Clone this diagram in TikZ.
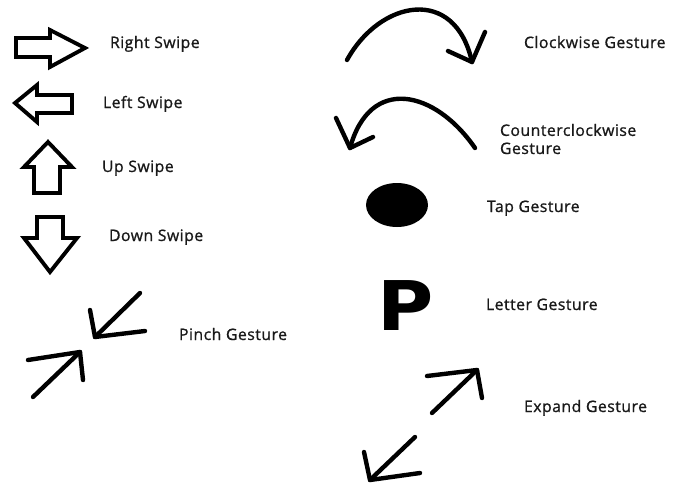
\documentclass[tikz,border=0pt]{standalone}
\usepackage{fontspec}
\setmainfont{Open Sans}[LetterSpace=3, FakeBold=1]
\newfontfamily\letterfont{DejaVu Sans}
\usetikzlibrary{positioning, shapes.geometric}
\tikzset{
  every picture/.style={line width=2.3pt},
  blockarrow/.style={draw=black, line join=miter, line width=2.2pt},
  stroke/.style={draw=black, line width=2.5pt, line cap=round, line join=round},
  label/.style={anchor=base west, inner sep=0pt, font=\fontsize{9}{10.3}\selectfont, text=black!90},
}
\begin{document}
\begin{tikzpicture}[x=0.02cm, y=-0.02cm]
  \useasboundingbox (0,0) rectangle (683,484);
  % swipes
  \draw[blockarrow] (16,38) -- (50,38) -- (50,30) -- (85,48) -- (50,67) -- (50,57) -- (16,57) -- cycle;
  \draw[blockarrow] (15,103) -- (37,85) -- (37,95) -- (72,95) -- (72,113) -- (37,113) -- (37,122) -- cycle;
  \draw[blockarrow] (48,142) -- (72,167) -- (60,167) -- (60,193) -- (34,193) -- (34,167) -- (24,167) -- cycle;
  \draw[blockarrow] (37,217) -- (63,217) -- (63,238) -- (77,238) -- (50,272) -- (24,238) -- (37,238) -- cycle;
  \node[label] (right) at (108,48) {Right Swipe};
  \node[label] (left) at (101,108) {Left Swipe};
  \node[label] (up) at (100,172) {Up Swipe};
  \node[label] (down) at (107,241) {Down Swipe};
  % pinch
  \draw[stroke] (140,293) -- (95,337);
  \draw[stroke] (90,310) -- (95,337) -- (145,331);
  \draw[stroke] (33,397) -- (80,352);
  \draw[stroke] (28,360) -- (80,352) -- (83,380);
  \node[label] (pinch) at (177,340) {Pinch Gesture};
  % rotations
  \draw[stroke] (347,60) .. controls (380,0) and (455,-15) .. (472,62);
  \draw[stroke] (448,51) -- (472,62) -- (485,32);
  \node[label] (cw) at (522,48) {Clockwise Gesture};
  \draw[stroke] (475,148) .. controls (435,90) and (370,75) .. (350,148);
  \draw[stroke] (336,118) -- (350,148) -- (373,137);
  \node[label, align=left, anchor=west] (ccw) at (498,139) {Counterclockwise\\Gesture};
  % tap and letter
  \node[fill=black, ellipse, minimum width=1.24cm, minimum height=0.88cm, inner sep=0pt] (tap) at (397,205) {};
  \node[label] (taplbl) at (485,212) {Tap Gesture};
  \node[inner sep=0pt, anchor=base, xscale=1.12, font=\letterfont\bfseries\fontsize{39}{39}\selectfont] (letter) at (406,330) {P};
  \node[label] (letterlbl) at (484,310) {Letter Gesture};
  % expand
  \draw[stroke] (432,413) -- (477,370);
  \draw[stroke] (427,376) -- (477,370) -- (482,398);
  \draw[stroke] (415,437) -- (370,480);
  \draw[stroke] (364,452) -- (370,480) -- (420,473);
  \node[label] (expand) at (522,412) {Expand Gesture};
\end{tikzpicture}
\end{document}
